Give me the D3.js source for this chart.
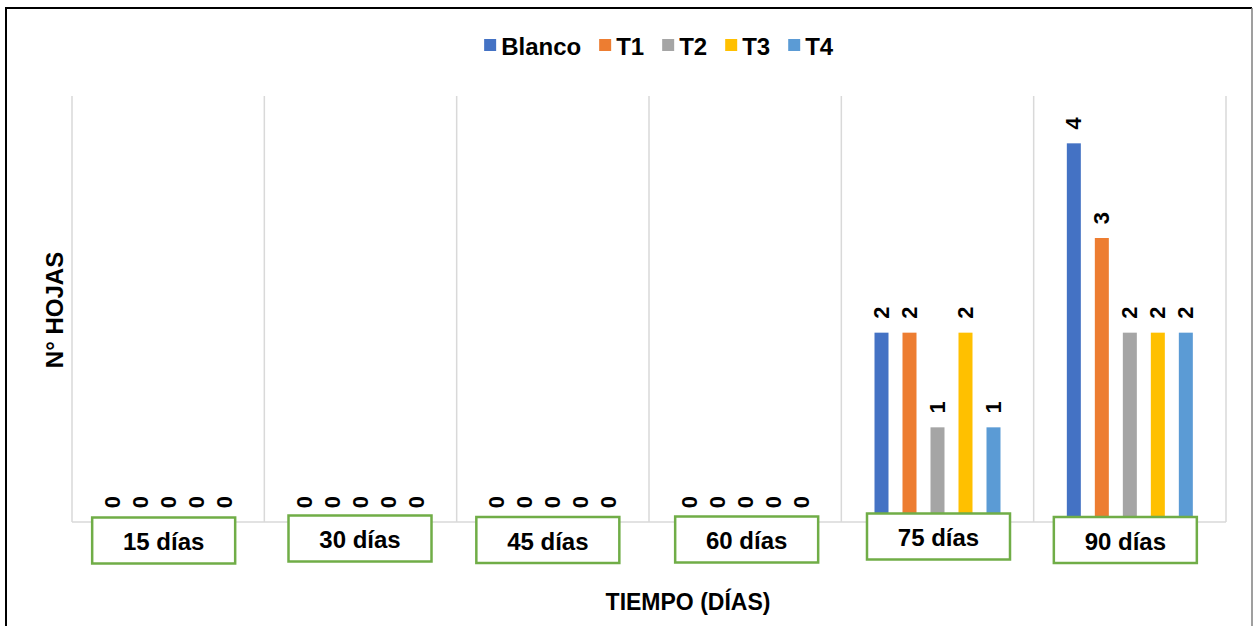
<!DOCTYPE html>
<html>
<head>
<meta charset="utf-8">
<script src="https://cdn.jsdelivr.net/npm/d3@7"></script>
<style>
  html, body { margin: 0; padding: 0; background: #fff; }
  svg { display: block; }
  text { font-family: "Liberation Sans", Arial, sans-serif; font-weight: bold; fill: #000; }
</style>
</head>
<body>
<svg id="chart" width="1254" height="626"></svg>
<script>
// ---- data ----
const categories = ["15 días", "30 días", "45 días", "60 días", "75 días", "90 días"];
const seriesNames = ["Blanco", "T1", "T2", "T3", "T4"];
const blanco = [0, 0, 0, 0, 2, 4];
const t1 = [0, 0, 0, 0, 2, 3];
const t2 = [0, 0, 0, 0, 1, 2];
const t3 = [0, 0, 0, 0, 2, 2];
const t4 = [0, 0, 0, 0, 1, 2];
const seriesColors = ["#4472C4", "#ED7D31", "#A5A5A5", "#FFC000", "#5B9BD5"];
const yDomain = [0, 4.5];
const xTitle = "TIEMPO (DÍAS)";
const yTitle = "N° HOJAS";
// per-category label box offsets (text boxes placed by hand in the original)
const labelBoxDy = [-4.5, -6.5, -5, -5.5, -8.5, -5];
const labelBoxDx = [-4.5, -0.5, -5, 1.5, 1, -4.5];

const seriesValues = [blanco, t1, t2, t3, t4];

const svg = d3.select("#chart");

// outer frame
svg.append("line").attr("x1", 6).attr("x2", 1252).attr("y1", 8).attr("y2", 8)
  .attr("stroke", "#000").attr("stroke-width", 2);
svg.append("line").attr("x1", 6).attr("x2", 6).attr("y1", 7).attr("y2", 626)
  .attr("stroke", "#000").attr("stroke-width", 2);
svg.append("line").attr("x1", 1252).attr("x2", 1252).attr("y1", 8).attr("y2", 626)
  .attr("stroke", "#7f7f7f").attr("stroke-width", 1.5);

const plot = { left: 72, right: 1226, top: 96, bottom: 522 };

const x0 = d3.scaleBand().domain(categories).range([plot.left, plot.right]).paddingInner(0).paddingOuter(0);
const x1 = d3.scaleBand().domain(seriesNames).range([x0.bandwidth() / 2 - 70, x0.bandwidth() / 2 + 70]).paddingInner(0.5).paddingOuter(0.25);
const y = d3.scaleLinear().domain(yDomain).range([plot.bottom, plot.top]);

// vertical category gridlines
const bounds = categories.map(c => x0(c)).concat([plot.right]);
svg.append("g").selectAll("line").data(bounds).join("line")
  .attr("x1", d => d).attr("x2", d => d)
  .attr("y1", plot.top).attr("y2", plot.bottom)
  .attr("stroke", "#d9d9d9").attr("stroke-width", 1.5);

// baseline axis
svg.append("line").attr("x1", plot.left).attr("x2", plot.right)
  .attr("y1", y(0)).attr("y2", y(0))
  .attr("stroke", "#d9d9d9").attr("stroke-width", 1.5);

// bars
const rows = [];
categories.forEach((c, ci) => {
  seriesNames.forEach((s, si) => {
    rows.push({ cat: c, ci, series: s, si, value: seriesValues[si][ci] });
  });
});

const g = svg.append("g");
g.selectAll("rect").data(rows.filter(d => d.value > 0)).join("rect")
  .attr("x", d => x0(d.cat) + x1(d.series))
  .attr("width", x1.bandwidth())
  .attr("y", d => y(d.value))
  .attr("height", d => y(0) - y(d.value))
  .attr("fill", d => seriesColors[d.si]);

// data labels (rotated)
g.selectAll("text.lbl").data(rows).join("text")
  .attr("class", "lbl")
  .attr("transform", d => `translate(${x0(d.cat) + x1(d.series) + x1.bandwidth() / 2},${y(d.value) - 20}) rotate(-90)`)
  .attr("text-anchor", "middle")
  .attr("dominant-baseline", "central")
  .style("font-size", "22px")
  .text(d => d.value);

// category labels in green boxes
const boxW = 143, boxH = 46;
const catG = svg.append("g").selectAll("g").data(categories).join("g")
  .attr("transform", (d, i) => `translate(${x0(d) + x0.bandwidth() / 2 + labelBoxDx[i]},${y(0) + labelBoxDy[i]})`);
catG.append("rect")
  .attr("x", -boxW / 2).attr("y", 0).attr("width", boxW).attr("height", boxH)
  .attr("fill", "#fff").attr("stroke", "#70AD47").attr("stroke-width", 2.5);
catG.append("text")
  .attr("x", 0).attr("y", boxH / 2 + 1)
  .attr("text-anchor", "middle").attr("dominant-baseline", "central")
  .style("font-size", "24px")
  .text(d => d);

// axis titles
svg.append("text").attr("x", 688).attr("y", 602)
  .attr("text-anchor", "middle").attr("dominant-baseline", "central")
  .style("font-size", "23px").text(xTitle);
svg.append("text").attr("transform", "translate(54,310) rotate(-90)")
  .attr("text-anchor", "middle").attr("dominant-baseline", "central")
  .style("font-size", "24px").text(yTitle);

// legend
const legend = svg.append("g");
const legendItems = legend.selectAll("g").data(seriesNames).join("g");
legendItems.append("rect").attr("width", 12).attr("height", 12).attr("y", -6)
  .attr("fill", (d, i) => seriesColors[i]);
legendItems.append("text").attr("x", 17).attr("y", 1)
  .attr("dominant-baseline", "central").style("font-size", "24px").text(d => d);
let lx = 0;
legendItems.each(function() {
  const w = this.getBBox().width;
  d3.select(this).attr("transform", `translate(${lx},0)`);
  lx += w + 18;
});
const totalW = lx - 18;
legend.attr("transform", `translate(${(1254 - totalW) / 2 + 32},45)`);
</script>
</body>
</html>
